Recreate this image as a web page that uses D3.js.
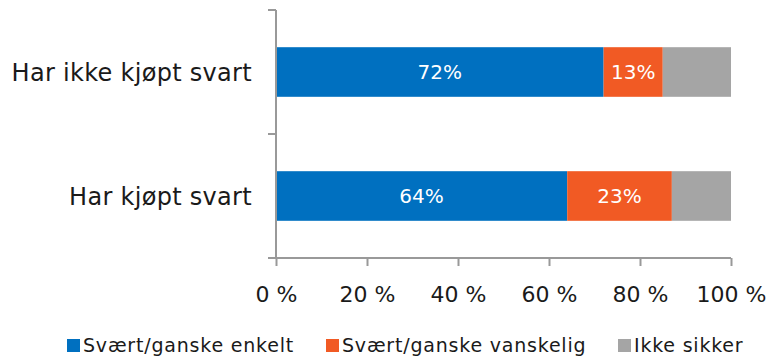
<!DOCTYPE html>
<html>
<head>
<meta charset="utf-8">
<script src="https://cdn.jsdelivr.net/npm/d3@7"></script>
<style>
  html, body { margin: 0; padding: 0; background: #fff; }
  svg { display: block; font-family: "DejaVu Sans", sans-serif; }
</style>
</head>
<body>
<svg id="chart" width="769" height="356"></svg>
<script>
// Survey answers, share of respondents (%)
const categories = ["Har ikke kjøpt svart", "Har kjøpt svart"];
const seriesNames = ["Svært/ganske enkelt", "Svært/ganske vanskelig", "Ikke sikker"];
const enkelt     = [72, 64];
const vanskelig  = [13, 23];
const ikkeSikker = [15, 13];
const showLabel  = [true, true, false];
const xTicks = [0, 20, 40, 60, 80, 100];
const colors = ["#0070C0", "#F15A24", "#A5A5A5"];

const svg = d3.select("#chart");
const margin = { top: 10, left: 276, right: 38, bottom: 98 };
const width = 769 - margin.left - margin.right;
const height = 356 - margin.top - margin.bottom;
const textColor = "#1a1a1a";

const rows = categories.map((c, i) => ({
  cat: c,
  [seriesNames[0]]: enkelt[i],
  [seriesNames[1]]: vanskelig[i],
  [seriesNames[2]]: ikkeSikker[i]
}));
const stacked = d3.stack().keys(seriesNames)(rows);

const x = d3.scaleLinear().domain([0, 100]).range([0, width]);
const y = d3.scaleBand().domain(categories).range([0, height]).paddingInner(0.6).paddingOuter(0.3);

const g = svg.append("g").attr("transform", `translate(${margin.left},${margin.top})`);

// bars
const layers = g.selectAll("g.layer").data(stacked).join("g")
  .attr("class", "layer")
  .attr("fill", (d, i) => colors[i]);

layers.selectAll("rect").data(d => d).join("rect")
  .attr("x", d => x(d[0]))
  .attr("width", d => x(d[1]) - x(d[0]))
  .attr("y", d => y(d.data.cat))
  .attr("height", y.bandwidth());

// value labels inside segments
layers.each(function (layer, li) {
  if (!showLabel[li]) return;
  d3.select(this).selectAll("text").data(layer).join("text")
    .attr("x", d => (x(d[0]) + x(d[1])) / 2)
    .attr("y", d => y(d.data.cat) + y.bandwidth() / 2)
    .attr("dy", "0.36em")
    .attr("text-anchor", "middle")
    .attr("fill", "#fff")
    .attr("font-size", 20)
    .text(d => Math.round(d[1] - d[0]) + "%");
});

// axes
const axisColor = "#999";
const xAxis = g.append("g")
  .attr("transform", `translate(0,${height})`)
  .call(d3.axisBottom(x).tickValues(xTicks).tickSize(8).tickSizeOuter(0)
    .tickFormat(d => d + " %"));
xAxis.select(".domain").attr("stroke", axisColor).attr("stroke-width", 2)
  .attr("d", `M-8,0H${width}`);
xAxis.selectAll(".tick line").attr("stroke", axisColor).attr("stroke-width", 2);
xAxis.selectAll(".tick text")
  .attr("y", 44).attr("dy", 0)
  .attr("fill", textColor).attr("font-size", 22)
  .attr("font-family", "DejaVu Sans, sans-serif");

// category axis: ticks at band boundaries
const yAxisG = g.append("g");
yAxisG.append("line")
  .attr("x1", 0).attr("x2", 0).attr("y1", 0).attr("y2", height)
  .attr("stroke", axisColor).attr("stroke-width", 2);
const step = height / categories.length;
d3.range(categories.length).forEach(i => {
  yAxisG.append("line")
    .attr("x1", -8).attr("x2", 0)
    .attr("y1", i * step).attr("y2", i * step)
    .attr("stroke", axisColor).attr("stroke-width", 2);
});
yAxisG.selectAll("text.cat").data(categories).join("text")
  .attr("class", "cat")
  .attr("x", -24)
  .attr("y", d => y(d) + y.bandwidth() / 2)
  .attr("dy", "0.37em")
  .attr("text-anchor", "end")
  .attr("fill", textColor)
  .attr("font-size", 24)
  .attr("letter-spacing", 0.3)
  .text(d => d);

// legend
const legendX = [67, 326, 618];
const legend = svg.append("g").attr("transform", "translate(0,339)");
seriesNames.forEach((name, i) => {
  const lg = legend.append("g").attr("transform", `translate(${legendX[i]},0)`);
  lg.append("rect").attr("width", 13).attr("height", 13).attr("fill", colors[i]);
  lg.append("text").attr("x", 16).attr("y", 13)
    .attr("font-size", 19).attr("letter-spacing", 0.8)
    .attr("fill", textColor).text(name);
});
</script>
</body>
</html>
